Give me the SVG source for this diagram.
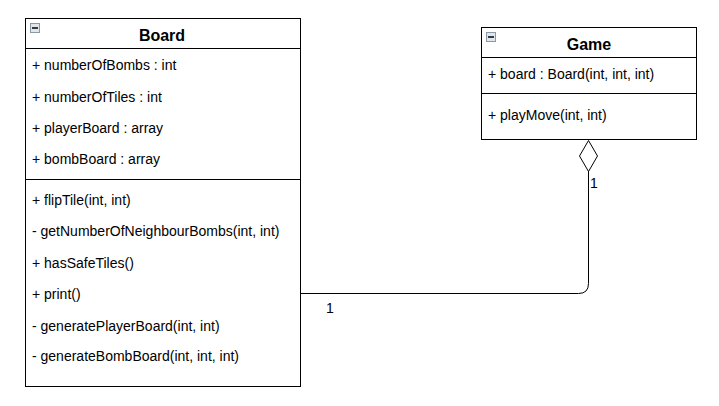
<svg xmlns="http://www.w3.org/2000/svg" width="719" height="406" viewBox="0 0 719 406">
<style>
.box{fill:#fff;stroke:#000;stroke-width:1}
.ln{stroke:#000;stroke-width:1;fill:none}
.t{font-family:"Liberation Sans",Arial,sans-serif;font-size:14px;fill:#000}
.h{font-family:"Liberation Sans",Arial,sans-serif;font-size:16px;font-weight:bold;fill:#000;text-anchor:middle}
.icon{fill:#dfe6ee;stroke:#8a98a8;stroke-width:1}
.mi{stroke:#000;stroke-width:1.5}
</style>
<rect width="719" height="406" fill="#fff"/>
<g id="connectors">
<path class="ln" d="M300.5 293.5 H578.5 Q588.5 293.5 588.5 283.5 V171"/>
<path d="M588.5 140.5 L597.5 156 L588.5 171.5 L579.5 156 Z" fill="#fff" stroke="#000" stroke-width="1"/>
<text class="t" x="590" y="188">1</text>
<text class="t" x="326" y="313">1</text>
</g>
<g id="Board">
<rect class="box" x="25.5" y="18.5" width="275" height="368"/>
<line class="ln" x1="25.5" y1="48.5" x2="300.5" y2="48.5"/>
<line class="ln" x1="25.5" y1="179.5" x2="300.5" y2="179.5"/>
<rect class="icon" x="30.5" y="23.5" width="9" height="9"/>
<line class="mi" x1="32" y1="28" x2="38" y2="28"/>
<text class="h" x="162" y="41">Board</text>
<text class="t" x="32" y="70">+ numberOfBombs : int</text>
<text class="t" x="32" y="102">+ numberOfTiles : int</text>
<text class="t" x="32" y="133">+ playerBoard : array</text>
<text class="t" x="32" y="164">+ bombBoard : array</text>
<text class="t" x="32" y="205">+ flipTile(int, int)</text>
<text class="t" x="32" y="236">- getNumberOfNeighbourBombs(int, int)</text>
<text class="t" x="32" y="268">+ hasSafeTiles()</text>
<text class="t" x="32" y="299">+ print()</text>
<text class="t" x="32" y="331">- generatePlayerBoard(int, int)</text>
<text class="t" x="32" y="361">- generateBombBoard(int, int, int)</text>
</g>
<g id="Game">
<rect class="box" x="481.5" y="27.5" width="215" height="112"/>
<line class="ln" x1="481.5" y1="57.5" x2="696.5" y2="57.5"/>
<line class="ln" x1="481.5" y1="93.5" x2="696.5" y2="93.5"/>
<rect class="icon" x="486.5" y="32.5" width="9" height="9"/>
<line class="mi" x1="488" y1="37" x2="494" y2="37"/>
<text class="h" x="589" y="50">Game</text>
<text class="t" x="488" y="79">+ board : Board(int, int, int)</text>
<text class="t" x="488" y="120">+ playMove(int, int)</text>
</g>
</svg>
